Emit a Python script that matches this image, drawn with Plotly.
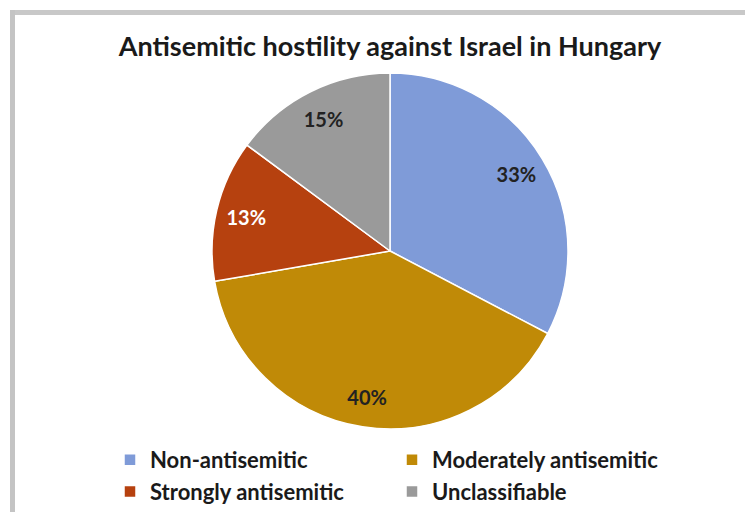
import plotly.graph_objects as go

categories = ["Non-antisemitic", "Moderately antisemitic", "Strongly antisemitic", "Unclassifiable"]
values = [33, 40, 13, 15]
colors = ["#7f9bd8", "#c08a07", "#b6410f", "#9a9a9a"]
label_colors = ["#222222", "#222222", "#ffffff", "#222222"]
title_text = "Antisemitic hostility against Israel in Hungary"

# the page body has an 8px margin, so the figure is 16px smaller than the window
W, H = 745, 504
OFF = 8  # window px -> figure px


def px_x(x):
    return (x - OFF) / W


def px_y(y):
    return 1 - (y - OFF) / H


pie_domain = dict(x=[px_x(212), px_x(568)], y=[px_y(429), px_y(73)])

fig = go.Figure()
# coloured slices (carry the legend)
fig.add_trace(go.Pie(
    labels=categories,
    values=values,
    sort=False,
    direction="clockwise",
    rotation=0,
    marker=dict(colors=colors, line=dict(color="#ffffff", width=1.5)),
    textinfo="none",
    hoverinfo="label+value",
    domain=pie_domain,
))
# transparent ring on top, only to place the percentage labels near the rim
fig.add_trace(go.Pie(
    labels=categories,
    values=values,
    sort=False,
    direction="clockwise",
    rotation=0,
    hole=0.66,
    marker=dict(colors=["rgba(0,0,0,0)"] * 4, line=dict(width=0)),
    texttemplate="%{value}%",
    textposition="inside",
    insidetextorientation="horizontal",
    textfont=dict(family="Lato", size=20, color=label_colors, weight="bold"),
    hoverinfo="skip",
    showlegend=False,
    domain=pie_domain,
))

fig.update_layout(
    width=W, height=H,
    margin=dict(l=0, r=0, t=0, b=0, autoexpand=False),
    paper_bgcolor="white",
    plot_bgcolor="white",
    title=dict(
        text=title_text,
        x=px_x(390), xanchor="center",
        y=px_y(47), yanchor="middle",
        font=dict(family="Lato", size=27, color="#1a1a1a", weight="bold"),
    ),
    showlegend=True,
    legend=dict(
        orientation="h",
        x=px_x(110), xanchor="left",
        y=px_y(439), yanchor="top",
        entrywidth=237, entrywidthmode="pixels",
        font=dict(family="Lato", size=22, color="#1a1a1a", weight="bold"),
        itemwidth=30,
        tracegroupgap=0,
        traceorder="normal",
    ),
    shapes=[
        dict(type="line", xref="paper", yref="paper",
             x0=px_x(10), x1=1, y0=px_y(12.5), y1=px_y(12.5),
             line=dict(color="#c8c8c8", width=5)),
        dict(type="line", xref="paper", yref="paper",
             x0=px_x(12.5), x1=px_x(12.5), y0=0, y1=px_y(10),
             line=dict(color="#c4c4c4", width=5)),
    ],
)

fig.write_html("out.html")
